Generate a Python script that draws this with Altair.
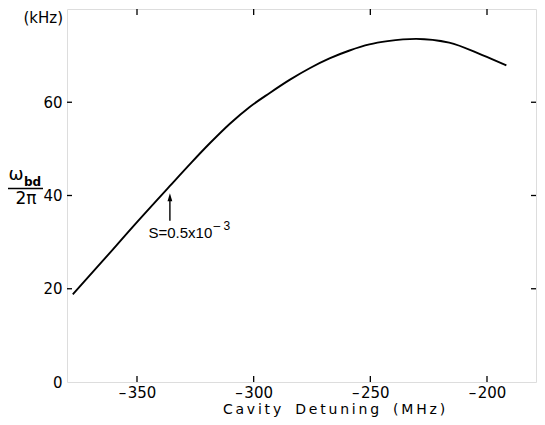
import altair as alt
import pandas as pd

# Curve: cavity detuning (MHz) vs omega_bd / 2pi (kHz)
detuning = [-377.5, -365.0, -350.0, -336.0, -327.0, -318.8, -310.2, -301.7,
            -293.1, -284.6, -276.0, -267.5, -258.9, -250.4, -242.6, -230.4,
            -216.2, -202.0, -191.7]
omega_khz = [18.8, 25.8, 34.3, 42.0, 46.9, 51.2, 55.4, 59.0,
             62.0, 64.8, 67.3, 69.4, 71.1, 72.4, 73.1, 73.6,
             72.8, 70.1, 67.9]

x_ticks = [-350, -300, -250, -200]
y_ticks = [20, 40, 60]

# annotation: arrow and label
arrow_x = [-335.9]
arrow_tail = [34.6]
arrow_head = [39.6]
label_x = [-345.1]
label_y = [30.8]

W, H = 469, 373
XD = [-380, -179]
YD = [0, 80]

FONT = "DejaVu Sans"

curve_df = pd.DataFrame({"x": detuning, "y": omega_khz})
xt_df = pd.DataFrame({"x": x_ticks})
yt_df = pd.DataFrame({"y": y_ticks})
arrow_df = pd.DataFrame({"x": arrow_x, "y": arrow_tail, "y2": arrow_head})
lab_df = pd.DataFrame({"x": label_x, "y": label_y})

xs = alt.Scale(domain=XD, nice=False, zero=False)
ys = alt.Scale(domain=YD, nice=False, zero=False)

x_label_expr = "'\u2013\u200a' + abs(datum.value)"

curve = alt.Chart(curve_df).mark_line(
    color="black", strokeWidth=1.9, interpolate="monotone"
).encode(
    x=alt.X("x:Q", scale=xs, axis=alt.Axis(
        values=x_ticks, ticks=False, domain=False, grid=False, title=None,
        labelFont=FONT, labelFontSize=15, labelColor="black", labelPadding=3,
        labelExpr=x_label_expr)),
    y=alt.Y("y:Q", scale=ys, axis=alt.Axis(
        values=[0, 20, 40, 60], ticks=False, domain=False, grid=False, title=None,
        labelFont=FONT, labelFontSize=15, labelColor="black", labelPadding=5)),
)

# inward ticks
bt = alt.Chart(xt_df).mark_rule(color="black", strokeWidth=1.3).encode(
    x=alt.X("x:Q", scale=xs), y=alt.value(H), y2=alt.value(H - 6))
tt = alt.Chart(xt_df).mark_rule(color="black", strokeWidth=1.3).encode(
    x=alt.X("x:Q", scale=xs), y=alt.value(0), y2=alt.value(6))
lt = alt.Chart(yt_df).mark_rule(color="black", strokeWidth=1.3).encode(
    y=alt.Y("y:Q", scale=ys), x=alt.value(0), x2=alt.value(5))
rt = alt.Chart(yt_df).mark_rule(color="black", strokeWidth=1.3).encode(
    y=alt.Y("y:Q", scale=ys), x=alt.value(W), x2=alt.value(W - 5))

arrow_line = alt.Chart(arrow_df).mark_rule(color="black", strokeWidth=1.4).encode(
    x=alt.X("x:Q", scale=xs), y=alt.Y("y:Q", scale=ys), y2="y2:Q")
arrow_tip = alt.Chart(arrow_df).mark_point(
    shape="M0,-1L0.6,1L-0.6,1Z", filled=True, color="black", size=64, opacity=1
).encode(x=alt.X("x:Q", scale=xs), y=alt.Y("y2:Q", scale=ys))

s_text = alt.Chart(lab_df).mark_text(
    text="S=0.5x10", font="Liberation Sans", fontSize=15, align="left",
    baseline="alphabetic", color="black"
).encode(x=alt.X("x:Q", scale=xs), y=alt.Y("y:Q", scale=ys))
s_sup = alt.Chart(lab_df).mark_text(
    text="\u2013 3", font="Liberation Sans", fontSize=12, align="left",
    baseline="alphabetic", color="black", dx=65, dy=-8
).encode(x=alt.X("x:Q", scale=xs), y=alt.Y("y:Q", scale=ys))

# axis title and unit, y label fraction
one = pd.DataFrame({"a": [0]})
ts = "\u2009"
title_txt = ("\u2003".join(ts.join(list(w)) for w in ["Cavity", "Detuning", "(MHz)"]))
x_title = alt.Chart(one).mark_text(
    text=title_txt,
    font=FONT, fontSize=14, align="center", baseline="alphabetic", color="black"
).encode(x=alt.value(267), y=alt.value(H + 32))
khz = alt.Chart(one).mark_text(
    text="(kHz)", font=FONT, fontSize=15, align="right", baseline="middle", color="black"
).encode(x=alt.value(-4), y=alt.value(9))
om = alt.Chart(one).mark_text(
    text="\u03c9", font=FONT, fontSize=18, align="center", baseline="alphabetic", color="black"
).encode(x=alt.value(-51), y=alt.value(171))
bd = alt.Chart(one).mark_text(
    text="bd", font=FONT, fontSize=12, fontWeight="bold", align="left",
    baseline="alphabetic", color="black"
).encode(x=alt.value(-43), y=alt.value(177))
frac = alt.Chart(one).mark_rule(color="black", strokeWidth=1.4).encode(
    x=alt.value(-60), x2=alt.value(-24), y=alt.value(179.5))
twopi = alt.Chart(one).mark_text(
    text="2\u03c0", font=FONT, fontSize=17, align="center", baseline="alphabetic", color="black"
).encode(x=alt.value(-41), y=alt.value(195))

chart = alt.layer(
    curve, bt, tt, lt, rt, arrow_line, arrow_tip, s_text, s_sup,
    x_title, khz, om, bd, frac, twopi
).properties(
    width=W, height=H,
    padding={"left": 59, "top": 1, "right": 1, "bottom": 35},
    autosize=alt.AutoSizeParams(type="none"),
).configure_view(
    stroke="black", strokeWidth=1.6
).configure(background="white")

chart.save("out.html", embed_options={"renderer": "svg", "actions": False})
